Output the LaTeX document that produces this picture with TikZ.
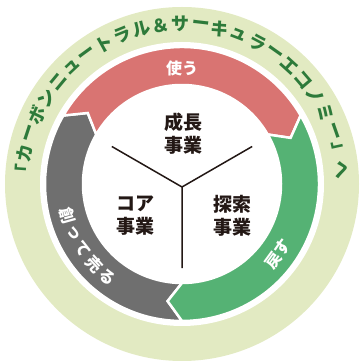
\documentclass[tikz,border=0pt]{standalone}
\usepackage{fontspec}
\newfontfamily\jp{Noto Sans CJK JP}
\definecolor{ringgreen}{RGB}{226,234,194}
\definecolor{textgreen}{RGB}{45,122,58}
\definecolor{usered}{RGB}{217,116,114}
\definecolor{backgreen}{RGB}{85,178,116}
\definecolor{makegray}{RGB}{111,111,111}
\definecolor{ink}{RGB}{35,24,21}
\newcommand{\cyclearrow}[3]{\fill[#1,draw=white,line width=2.5pt,line join=miter]
	(#2:137) arc[start angle=#2,end angle=#3,radius=137pt]
	-- (#3-7:118) -- (#3:99) arc[start angle=#3,end angle=#2,radius=99pt]
	-- (#2-7:118) -- cycle;}

\begin{document}
\begin{tikzpicture}[x=1pt,y=1pt,
	ringchar/.style={text=textgreen,font=\jp\bfseries\fontsize{18}{18}\selectfont,inner sep=0pt},
	bandchar/.style={text=white,font=\jp\bfseries\fontsize{16}{16}\selectfont,inner sep=0pt},
	business/.style={text=ink,align=center,font=\jp\bfseries\fontsize{19}{23}\selectfont}]
\useasboundingbox (-182,-179) rectangle (177,184);
\fill[ringgreen] (0,0) circle[radius=177pt];
\fill[white] (0,0) circle[radius=142pt];
\cyclearrow{makegray}{270}{150}
\cyclearrow{usered}{150}{30}
\cyclearrow{backgreen}{30}{-90}
\foreach \ch [count=\i] in {「,カ,ー,ボ,ン,ニ,ュ,ー,ト,ラ,ル,＆,サ,ー,キ,ュ,ラ,ー,エ,コ,ノ,ミ,ー,」,へ}
	\node[ringchar,rotate={176-(\i-1)*7.125-90}] (ring\i) at ({176-(\i-1)*7.125}:160) {\ch};
\node[bandchar] (use) at (90:116) {使う};
\node[bandchar,rotate=54] (back) at (-36:119) {戻す};
\foreach \ch [count=\i] in {創,っ,て,売,る}
	\node[bandchar,rotate={195.6+(\i-1)*8.9+90}] (make\i) at ({195.6+(\i-1)*8.9}:119) {\ch};
\coordinate (hub) at (0,-3);
\path (hub) ++(150:81) coordinate (leftend);
\path (hub) ++(30:81) coordinate (rightend);
\path (hub) ++(270:81) coordinate (downend);
\draw[ink,line width=1.5pt] (leftend) -- (hub) -- (rightend) (hub) -- (downend);
\node[business] (growth) at (1,50) {成長\\事業};
\node[business] (core) at (-47,-32) {コア\\事業};
\node[business] (explore) at (50,-32) {探索\\事業};
\end{tikzpicture}
\end{document}
